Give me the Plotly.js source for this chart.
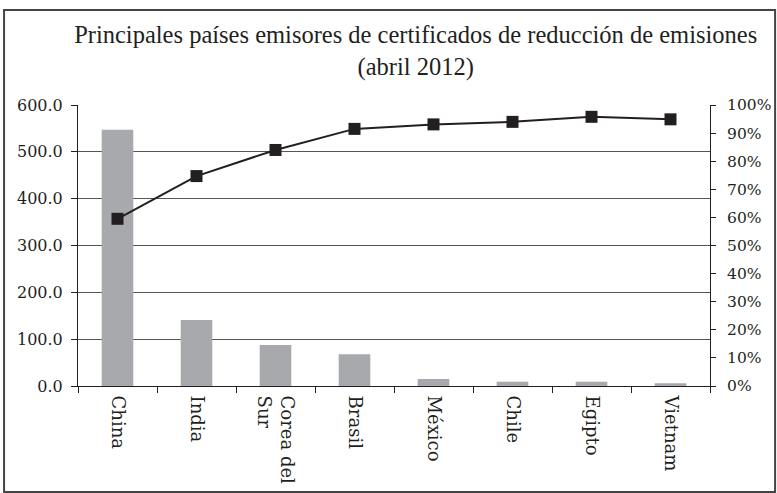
<!DOCTYPE html>
<html>
<head>
<meta charset="utf-8">
<script src="https://cdn.plot.ly/plotly-3.0.1.min.js"></script>
<style>html,body{margin:0;padding:0;background:#fff;}#chart{width:777px;height:493px;}</style>
</head>
<body>
<div id="chart"></div>
<script>
const categories = ["China", "India", "Corea del<br>Sur", "Brasil", "México", "Chile", "Egipto", "Vietnam"];
const emissions = [547, 141, 87.5, 68, 15, 9, 9, 6];
const cumulativeShare = [0.595, 0.747, 0.840, 0.915, 0.931, 0.940, 0.958, 0.949];
const leftTicks = [0, 100, 200, 300, 400, 500, 600];
const rightTicks = [0, 0.1, 0.2, 0.3, 0.4, 0.5, 0.6, 0.7, 0.8, 0.9, 1.0];

const ink = "#231f20";
const serif = "DejaVu Serif, serif";

const traces = [
  {
    type: "bar", x: categories, y: emissions, yaxis: "y",
    marker: {color: "#a7a9ac"}, hoverinfo: "skip"
  },
  {
    type: "scatter", mode: "lines+markers", x: categories, y: cumulativeShare, yaxis: "y2",
    line: {color: ink, width: 2},
    marker: {symbol: "square", size: 12, color: ink},
    hoverinfo: "skip"
  }
];

const layout = {
  width: 777, height: 493,
  margin: {l: 78, r: 67, t: 105, b: 107},
  paper_bgcolor: "#fff", plot_bgcolor: "#fff",
  showlegend: false,
  bargap: 0.6,
  title: {
    text: "Principales países emisores de certificados de reducción de emisiones<br>(abril 2012)",
    font: {family: "Liberation Serif, serif", size: 24.5, color: ink},
    x: 0.535, xanchor: "center", xref: "container",
    y: 0.912, yanchor: "top", yref: "container"
  },
  xaxis: {
    type: "category",
    showline: true, linecolor: ink, linewidth: 1,
    ticks: "outside", tickson: "boundaries", ticklen: 6, tickcolor: ink,
    tickangle: 90, ticklabelstandoff: 5,
    tickfont: {family: serif, size: 18, color: ink},
    showgrid: false, zeroline: false
  },
  yaxis: {
    range: [0, 600], tickvals: leftTicks, tickformat: ".1f",
    showline: true, linecolor: ink, linewidth: 1,
    ticks: "outside", ticklen: 6, tickcolor: ink, ticklabelstandoff: 5,
    tickfont: {family: serif, size: 16, color: ink},
    showgrid: true, gridcolor: "#555", gridwidth: 1,
    zeroline: false
  },
  yaxis2: {
    overlaying: "y", side: "right",
    range: [0, 1], tickvals: rightTicks, tickformat: ".0%",
    showline: true, linecolor: ink, linewidth: 1,
    ticks: "outside", ticklen: 5, tickcolor: ink, ticklabelstandoff: 8,
    tickfont: {family: serif, size: 15.5, color: ink},
    showgrid: false, zeroline: false
  },
  shapes: [
    {type: "rect", xref: "paper", yref: "paper",
     x0: -0.117, x1: 1.103, y0: -0.377, y1: 1.338,
     line: {color: "#444", width: 2}, fillcolor: "rgba(0,0,0,0)", layer: "below"}
  ]
};

Plotly.newPlot("chart", traces, layout, {staticPlot: true, displayModeBar: false});
</script>
</body>
</html>
